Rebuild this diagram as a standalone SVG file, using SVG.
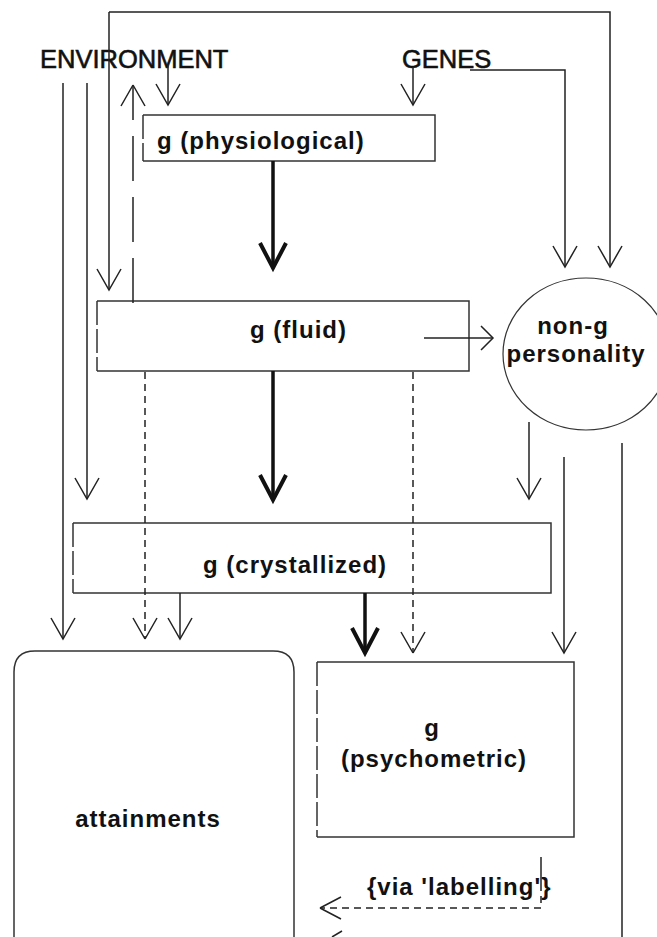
<svg xmlns="http://www.w3.org/2000/svg" width="657" height="937" viewBox="0 0 657 937">
<style>
.ln{fill:none;stroke:#222;stroke-width:1.5}
.thk{fill:none;stroke:#111;stroke-width:3.5}
.dl{fill:none;stroke:#222;stroke-width:1.5;stroke-dasharray:45 16}
.ds{fill:none;stroke:#222;stroke-width:1.5;stroke-dasharray:7 5}
.bx{fill:none;stroke:#333;stroke-width:1.5}
.bxl{fill:none;stroke:#333;stroke-width:1.5;stroke-dasharray:24 4}
.t{font-family:"Liberation Sans",Arial,sans-serif;font-size:24px;font-weight:bold;letter-spacing:1px;fill:#111}
.c{font-family:"Liberation Sans",Arial,sans-serif;font-size:25.5px;fill:#111;stroke:#111;stroke-width:0.6}
</style>
<defs>
<marker id="a" markerUnits="userSpaceOnUse" orient="auto" refX="0" refY="0" overflow="visible"><path d="M-21,-12 L0,0 L-21,12" fill="none" stroke="#222" stroke-width="1.5"/></marker>
<marker id="k" markerUnits="userSpaceOnUse" orient="auto" refX="0" refY="0" overflow="visible"><path d="M-25,-13 L0,0 L-25,13" fill="none" stroke="#111" stroke-width="4"/></marker>
<marker id="s" markerUnits="userSpaceOnUse" orient="auto" refX="0" refY="0" overflow="visible"><path d="M-12,-12 L0,0 L-12,12" fill="none" stroke="#222" stroke-width="1.5"/></marker>
</defs>

<g id="environment"><text class="c" x="40" y="68">ENVIRONMENT</text></g>
<g id="genes"><text class="c" x="402" y="68">GENES</text></g>

<g id="physiological">
<path class="bx" d="M143,115 H435 V161 H143"/>
<path class="bxl" d="M143,115 V161" stroke-dasharray="18 6"/>
<text class="t" x="157" y="149">g (physiological)</text>
</g>

<g id="fluid">
<path class="bx" d="M97,301 H469 V371 H97"/>
<path class="bxl" d="M97,301 V371" stroke-dasharray="21 4 26 4"/>
<text class="t" x="250" y="338">g (fluid)</text>
</g>

<g id="crystallized">
<path class="bx" d="M73,523 H551 V593 H73"/>
<path class="bxl" d="M73,523 V593" stroke-dasharray="10 10 27 4"/>
<text class="t" x="203" y="573">g (crystallized)</text>
</g>

<g id="personality">
<ellipse cx="586" cy="354" rx="83" ry="76" fill="none" stroke="#333" stroke-width="1.2"/>
<text class="t" x="573" y="334" text-anchor="middle">non-g</text>
<text class="t" x="576" y="362" text-anchor="middle">personality</text>
</g>

<g id="psychometric">
<path class="bx" d="M317,662 H574 V837 H317"/>
<path class="bxl" d="M317,662 V837" stroke-dasharray="30 3"/>
<text class="t" x="432" y="736" text-anchor="middle">g</text>
<text class="t" x="434" y="767" text-anchor="middle">(psychometric)</text>
</g>

<g id="attainments">
<path class="bx" d="M14,937 V672 Q14,651 35,651 H273 Q294,651 294,672 V937"/>
<text class="t" x="148" y="827" text-anchor="middle">attainments</text>
</g>

<g id="connectors">
<path class="ln" d="M109,12 V290" marker-end="url(#a)"/>
<path class="ln" d="M109,12 H610 V267" marker-end="url(#a)"/>
<path class="ln" d="M87,83 V499" marker-end="url(#a)"/>
<path class="ln" d="M63,83 V639" marker-end="url(#a)"/>
<path class="ln" d="M168,65 V105" marker-end="url(#a)"/>
<path class="dl" d="M133,303 V85"/>
<path class="ln" d="M133,85 l-12,21 M133,85 l12,21"/>
<path class="ln" d="M413,67 V105" marker-end="url(#a)"/>
<path class="ln" d="M470,70 H565 V267" marker-end="url(#a)"/>
<path class="thk" d="M273,161 V268" marker-end="url(#k)"/>
<path class="thk" d="M273,371 V500" marker-end="url(#k)"/>
<path class="thk" d="M365,593 V653" marker-end="url(#k)"/>
<path class="ln" d="M424,338 H493" marker-end="url(#s)"/>
<path class="ds" d="M145,372 V639"/>
<path class="ln" d="M145,639 l-12,-21 M145,639 l12,-21"/>
<path class="ds" d="M413,372 V653"/>
<path class="ln" d="M413,653 l-12,-21 M413,653 l12,-21"/>
<path class="ln" d="M180,593 V639" marker-end="url(#a)"/>
<path class="ln" d="M529,422 V499" marker-end="url(#a)"/>
<path class="ln" d="M564,457 V653" marker-end="url(#a)"/>
<path class="ln" d="M622,443 V937"/>
<path class="ln" d="M541,857 V884"/>
<path class="ds" d="M541,884 V908 H321" stroke-dasharray="10 5"/>
<path class="ln" d="M320,908 l21,-11 M320,908 l21,11"/>
<path class="ln" d="M342,931 L332,937"/>
</g>

<g id="label-via"><text class="t" x="367" y="895">{via 'labelling'}</text></g>
</svg>
